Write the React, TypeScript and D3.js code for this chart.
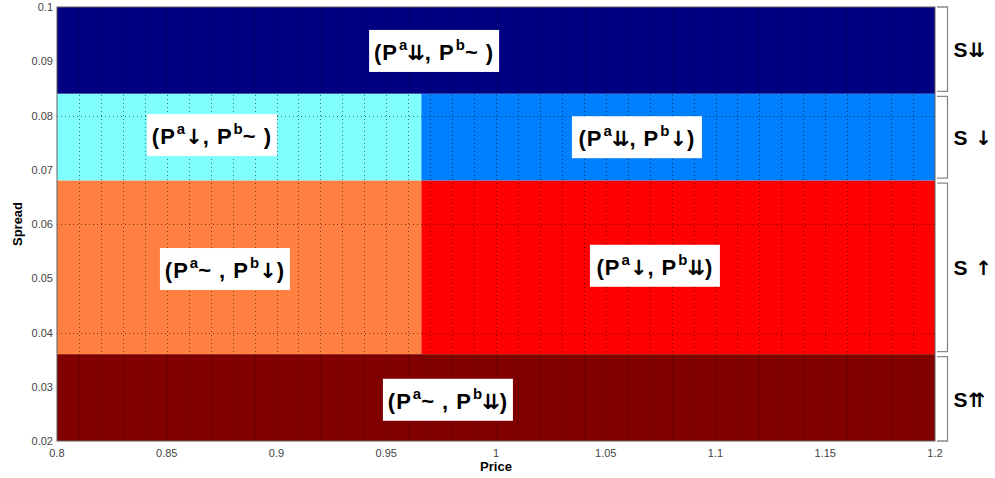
import React from "react";
import * as d3 from "d3";

// regions of the price/spread plane
const regionX0 = [0.8, 0.8, 0.966, 0.8, 0.966, 0.8];
const regionX1 = [1.2, 0.966, 1.2, 0.966, 1.2, 1.2];
const regionY0 = [0.084, 0.068, 0.068, 0.036, 0.036, 0.02];
const regionY1 = [0.1, 0.084, 0.084, 0.068, 0.068, 0.036];
const regionColors = ["#000080", "#80ffff", "#0080ff", "#ff8040", "#ff0000", "#800000"];

// label of each region, "^" marks a superscript
const labelX = [0.9718, 0.8706, 1.0642, 0.8765, 1.0724, 0.9781];
const labelY = [0.0919, 0.0764, 0.076, 0.0517, 0.0523, 0.0276];
const labelParts = [
  ["(P", "^a", "⇊", ", P", "^b", "~ )"],
  ["(P", "^a", "↓", ", P", "^b", "~ )"],
  ["(P", "^a", "⇊", ", P", "^b", "↓", ")"],
  ["(P", "^a", "~ , P", "^b", "↓", ")"],
  ["(P", "^a", "↓", ", P", "^b", "⇊", ")"],
  ["(P", "^a", "~ , P", "^b", "⇊", ")"],
];

// spread groups on the right
const groupTop = [0.1, 0.084, 0.068, 0.036];
const groupBottom = [0.084, 0.068, 0.036, 0.02];
const groupParts = [["S", "⇊"], ["S ", "↓"], ["S ", "↑"], ["S", "⇈"]];

const xTicks = [0.8, 0.85, 0.9, 0.95, 1, 1.05, 1.1, 1.15, 1.2];
const yTicks = [0.1, 0.09, 0.08, 0.07, 0.06, 0.05, 0.04, 0.03, 0.02];
const xGrid = d3.range(41).map(i => 0.8 + i * 0.01);
const yGrid = [0.04, 0.06, 0.08];

const W = 995;
const H = 478;
const margin = { left: 57, right: 60, top: 7, bottom: 37 };
const font = "'Liberation Sans', Arial, sans-serif";
const arrowFont = "'DejaVu Sans', sans-serif";

const isArrow = (t: string) => /^[↓↑⇊⇈]+$/.test(t);

// turn the tokens into tspans with superscripts and arrow glyphs
function renderParts(parts: string[], size: number) {
  let shift = 0;
  return parts.map((t, j) => {
    if (t.startsWith("^")) {
      const dy = -10 - shift;
      shift = -10;
      return (
        <tspan key={j} dy={dy} dx={1} fontSize={size * 0.68}>
          {t.slice(1)}
        </tspan>
      );
    }
    const dy = -shift;
    shift = 0;
    if (isArrow(t)) {
      return (
        <tspan key={j} dy={dy} fontFamily={arrowFont} fontSize={size * 0.95}>
          {t}
        </tspan>
      );
    }
    return (
      <tspan key={j} dy={dy} letterSpacing={1} style={{ whiteSpace: "pre" }}>
        {t}
      </tspan>
    );
  });
}

export default function App() {
  const x = d3.scaleLinear().domain([0.8, 1.2]).range([margin.left, W - margin.right]);
  const y = d3.scaleLinear().domain([0.02, 0.1]).range([H - margin.bottom, margin.top]);

  return (
    <svg width={W} height={H} style={{ position: "absolute", left: 0, top: 0, background: "#fff" }}>
      {regionColors.map((c, i) => (
        <rect
          key={"r" + i}
          x={x(regionX0[i])}
          y={y(regionY1[i])}
          width={x(regionX1[i]) - x(regionX0[i])}
          height={y(regionY0[i]) - y(regionY1[i])}
          fill={c}
        />
      ))}

      {/* dotted grid */}
      <g stroke="#000" strokeOpacity={0.55} strokeDasharray="1,3" strokeWidth={1}>
        {xGrid.slice(1, -1).map((v, i) => (
          <line key={"gx" + i} x1={Math.round(x(v)) + 0.5} x2={Math.round(x(v)) + 0.5} y1={y(0.1)} y2={y(0.02)} />
        ))}
        {yGrid.map((v, i) => (
          <line key={"gy" + i} x1={x(0.8)} x2={x(1.2)} y1={Math.round(y(v)) + 0.5} y2={Math.round(y(v)) + 0.5} />
        ))}
      </g>

      <rect
        x={x(0.8)}
        y={y(0.1)}
        width={x(1.2) - x(0.8)}
        height={y(0.02) - y(0.1)}
        fill="none"
        stroke="#606060"
        strokeWidth={1}
      />

      {/* region labels */}
      {labelX.map((lx, i) => {
        const cx = x(lx);
        const cy = y(labelY[i]);
        return (
          <g key={"l" + i}>
            <rect x={cx - 65} y={cy - 21} width={130} height={42} fill="#fff" />
            <text
              x={cx}
              y={cy + 9}
              textAnchor="middle"
              fontFamily={font}
              fontWeight="bold"
              fontSize={22}
              fill="#000"
            >
              {renderParts(labelParts[i], 22)}
            </text>
          </g>
        );
      })}

      {/* right-hand brackets */}
      {groupParts.map((s, i) => {
        const t = y(groupTop[i]) + (i === 0 ? 0 : 2.5);
        const b = y(groupBottom[i]) - (i === 3 ? 0 : 2.5);
        const bx = x(1.2) + 12.5;
        return (
          <g key={"g" + i}>
            <path
              d={`M${x(1.2) + 2},${t}H${bx}V${b}H${x(1.2) + 2}`}
              fill="none"
              stroke="#8a8a8a"
              strokeWidth={1.3}
            />
            <text
              x={bx + 6}
              y={(t + b) / 2 + 8}
              fontFamily={font}
              fontWeight="bold"
              fontSize={21}
              fill="#000"
            >
              {renderParts(s, 21)}
            </text>
          </g>
        );
      })}

      {/* axes tick labels */}
      {yTicks.map((v, i) => (
        <text
          key={"yt" + i}
          x={x(0.8) - 4}
          y={y(v) + 4}
          textAnchor="end"
          fontFamily={font}
          fontSize={11}
          fill="#444"
        >
          {d3.format("~g")(v)}
        </text>
      ))}
      {xTicks.map((v, i) => (
        <text
          key={"xt" + i}
          x={x(v)}
          y={y(0.02) + 16}
          textAnchor="middle"
          fontFamily={font}
          fontSize={11}
          fill="#444"
        >
          {d3.format("~g")(v)}
        </text>
      ))}

      <text
        x={(x(0.8) + x(1.2)) / 2}
        y={471}
        textAnchor="middle"
        fontFamily={font}
        fontWeight="bold"
        fontSize={13}
        fill="#000"
      >
        Price
      </text>
      <text
        transform={`translate(22,${(y(0.1) + y(0.02)) / 2}) rotate(-90)`}
        textAnchor="middle"
        fontFamily={font}
        fontWeight="bold"
        fontSize={13}
        fill="#000"
      >
        Spread
      </text>
    </svg>
  );
}
